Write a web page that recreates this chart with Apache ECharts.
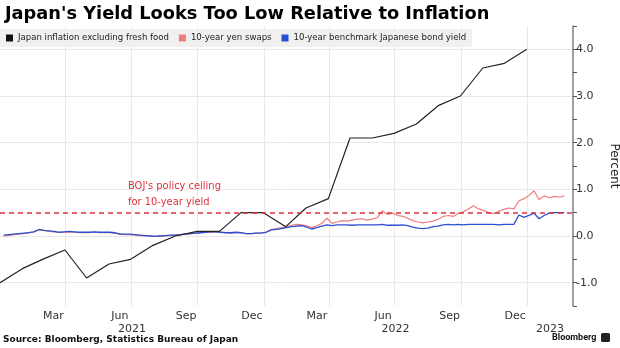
<!DOCTYPE html>
<html>
<head>
<meta charset="utf-8">
<script src="https://cdn.jsdelivr.net/npm/echarts@6/dist/echarts.min.js"></script>
<style>html,body{margin:0;padding:0;background:#fff}#chart{width:620px;height:348px}</style>
</head>
<body>
<div id="chart"></div>
<script>
// ---- Data ----
const inflationDates = ['2020-12-31','2021-01-31','2021-02-28','2021-03-31','2021-04-30','2021-05-31','2021-06-30','2021-07-31','2021-08-31','2021-09-30','2021-10-31','2021-11-30','2021-12-31','2022-01-31','2022-02-28','2022-03-31','2022-04-30','2022-05-31','2022-06-30','2022-07-31','2022-08-31','2022-09-30','2022-10-31','2022-11-30','2022-12-31'];
const inflationValues = [-1.0,-0.7,-0.5,-0.3,-0.9,-0.6,-0.5,-0.2,0.0,0.1,0.1,0.5,0.5,0.2,0.6,0.8,2.1,2.1,2.2,2.4,2.8,3.0,3.6,3.7,4.0];

// weekly readings (Tuesdays) starting 2021-01-05
const weeklyStart = '2021-01-05';
const swapValues = [
 0.00,0.01,0.03,0.04,0.05,0.07,0.09,0.13,
 0.12,0.10,0.09,0.08,0.08,0.09,0.08,0.07,
 0.07,0.07,0.08,0.07,0.07,0.07,0.06,0.04,
 0.03,0.03,0.02,0.01,0.00,0.00,-0.01,0.00,
 0.00,0.01,0.02,0.03,0.04,0.05,0.06,0.07,
 0.08,0.08,0.08,0.08,0.07,0.06,0.07,0.07,
 0.05,0.05,0.06,0.07,0.09,0.14,0.16,0.18,
 0.20,0.23,0.25,0.24,0.22,0.18,0.22,0.27,
 0.38,0.27,0.30,0.33,0.32,0.34,0.36,0.37,
 0.34,0.36,0.40,0.54,0.46,0.49,0.44,0.42,
 0.38,0.33,0.30,0.28,0.30,0.32,0.36,0.42,
 0.44,0.42,0.48,0.52,0.58,0.65,0.58,0.55,
 0.50,0.48,0.53,0.57,0.60,0.58,0.75,0.80,
 0.87,0.97,0.78,0.86,0.82,0.85,0.83,0.86
];
const bondValues = [
 0.02,0.03,0.04,0.05,0.06,0.07,0.09,0.14,
 0.12,0.11,0.10,0.08,0.09,0.10,0.09,0.08,
 0.08,0.08,0.09,0.08,0.08,0.08,0.07,0.04,
 0.04,0.04,0.03,0.02,0.01,0.00,-0.01,0.00,
 0.01,0.02,0.02,0.03,0.04,0.05,0.06,0.07,
 0.08,0.09,0.09,0.08,0.07,0.07,0.08,0.07,
 0.05,0.05,0.06,0.06,0.08,0.13,0.14,0.16,
 0.18,0.20,0.21,0.22,0.19,0.15,0.18,0.21,
 0.24,0.22,0.24,0.24,0.24,0.23,0.24,0.24,
 0.24,0.24,0.24,0.25,0.23,0.23,0.23,0.24,
 0.22,0.19,0.17,0.16,0.17,0.20,0.21,0.24,
 0.25,0.24,0.25,0.24,0.25,0.25,0.25,0.25,
 0.25,0.25,0.24,0.25,0.25,0.25,0.45,0.40,
 0.44,0.49,0.37,0.44,0.49,0.50,0.50,0.50
];
const ceilingValue = 0.5;

const monthTickDates = ['2021-03-15','2021-06-15','2021-09-15','2021-12-15','2022-03-15','2022-06-15','2022-09-15','2022-12-15'];
const monthTickLabels = ['Mar','Jun','Sep','Dec','Mar','Jun','Sep','Dec'];
const yearTickDates = ['2021-07-02','2022-07-02','2023-02-01'];
const yearTickLabels = ['2021','2022','2023'];
const quarterGridDates = ['2021-04-01','2021-07-01','2021-10-01','2022-01-01','2022-04-01','2022-07-01','2022-10-01','2023-01-01'];
const yGridValues = [-1,0,1,2,3,4];
const xMinDate = '2020-12-31';
const xMaxDate = '2023-03-05';

// ---- Helpers ----
function ts(s){ const p = s.split('-').map(Number); return Date.UTC(p[0], p[1]-1, p[2]); }
const DAY = 86400000;
const weeklyTs = swapValues.map((_, i) => ts(weeklyStart) + i * 7 * DAY);

const monthTs = monthTickDates.map(ts);
const yearTs = yearTickDates.map(ts);

const chart = echarts.init(document.getElementById('chart'), null, {renderer: 'canvas'});
const labelFont = 'DejaVu Sans';

const option = {
  animation: false,
  backgroundColor: '#ffffff',
  title: {
    text: "Japan's Yield Looks Too Low Relative to Inflation",
    left: 0, top: 0,
    textStyle: {fontFamily: 'DejaVu Sans', fontWeight: 'bold', fontSize: 17.8, color: '#000'}
  },
  legend: {
    left: 0, top: 29,
    data: ['Japan inflation excluding fresh food', '10-year yen swaps', '10-year benchmark Japanese bond yield'],
    icon: 'rect', itemWidth: 7, itemHeight: 7, itemGap: 10,
    backgroundColor: '#f0f0f0', padding: [4, 6, 4, 6],
    textStyle: {fontFamily: 'DejaVu Sans Condensed', fontSize: 9.5, color: '#222'}
  },
  grid: {left: 0, right: 47, top: 26, bottom: 42, containLabel: false, outerBoundsMode: 'none'},
  xAxis: [{
    type: 'value', min: ts(xMinDate), max: ts(xMaxDate),
    axisLine: {show: false}, axisTick: {show: false}, splitLine: {show: false},
    axisLabel: {
      customValues: monthTs, margin: 5,
      fontFamily: labelFont, fontSize: 11, color: '#333',
      formatter: function(v){ const i = monthTs.indexOf(v); return i >= 0 ? monthTickLabels[i] : ''; }
    }
  }, {
    type: 'value', min: ts(xMinDate), max: ts(xMaxDate), position: 'bottom',
    axisLine: {show: false}, axisTick: {show: false}, splitLine: {show: false},
    axisLabel: {
      customValues: yearTs, margin: 18,
      fontFamily: labelFont, fontSize: 11, color: '#333',
      formatter: function(v){ const i = yearTs.indexOf(v); return i >= 0 ? yearTickLabels[i] : ''; }
    }
  }],
  yAxis: {
    type: 'value', position: 'right', min: -1.5, max: 4.5, interval: 0.5,
    name: 'Percent', nameLocation: 'middle', nameRotate: -90, nameGap: 30,
    nameTextStyle: {fontFamily: labelFont, fontSize: 12, color: '#222'},
    axisLine: {show: true, lineStyle: {color: '#808080', width: 1.5}},
    axisTick: {show: true, length: 4, inside: false, lineStyle: {color: '#555'}},
    splitLine: {show: false},
    axisLabel: {
      margin: 3, fontFamily: labelFont, fontSize: 11, color: '#333',
      formatter: function(v){ return Math.abs(v - Math.round(v)) < 1e-9 ? v.toFixed(1) : ''; }
    }
  },
  series: [
    {
      type: 'line', name: 'grid', data: [], z: 0, silent: true,
      markLine: {
        z: 0, silent: true, symbol: 'none', label: {show: false}, animation: false,
        lineStyle: {color: '#e9e9e9', width: 1, type: 'solid'},
        data: quarterGridDates.map(d => ({xAxis: ts(d)})).concat(yGridValues.map(v => ({yAxis: v})))
      }
    },
    {
      type: 'line', name: '10-year yen swaps', z: 2,
      data: weeklyTs.map((t, i) => [t, swapValues[i]]),
      showSymbol: false, symbol: 'none',
      itemStyle: {color: '#f07c7c'}, lineStyle: {color: '#f07c7c', width: 1.2}
    },
    {
      type: 'line', name: '10-year benchmark Japanese bond yield', z: 3,
      data: weeklyTs.map((t, i) => [t, bondValues[i]]),
      showSymbol: false, symbol: 'none',
      itemStyle: {color: '#2b4fd1'}, lineStyle: {color: '#2b4fd1', width: 1.3}
    },
    {
      type: 'line', name: 'Japan inflation excluding fresh food', z: 4,
      data: inflationDates.map((d, i) => [ts(d), inflationValues[i]]),
      showSymbol: false, symbol: 'none',
      itemStyle: {color: '#111'}, lineStyle: {color: '#222', width: 1.2}
    },
    {
      type: 'line', name: 'ceiling', data: [], z: 5, silent: true,
      markLine: {
        z: 6, silent: true, symbol: 'none', label: {show: false}, animation: false,
        lineStyle: {color: '#e0303c', width: 1.5, type: [5, 4]},
        data: [{yAxis: ceilingValue}]
      }
    }
  ],
  graphic: [
    {
      type: 'text', left: 128, top: 178, z: 10,
      style: {text: "BOJ's policy ceiling\nfor 10-year yield", fill: '#e0303c', font: '11px "DejaVu Sans Condensed"', lineHeight: 16}
    },
    {
      type: 'text', left: 3, top: 335, z: 10,
      style: {text: 'Source: Bloomberg, Statistics Bureau of Japan', fill: '#111', font: 'bold 9px "DejaVu Sans"'}
    },
    {
      type: 'text', left: 552, top: 333, z: 10,
      style: {text: 'Bloomberg', fill: '#111', font: 'bold 9px "Roboto"'}
    },
    {
      type: 'rect', left: 601, top: 333, z: 10,
      shape: {width: 9, height: 9, r: 1.5}, style: {fill: '#222'}
    }
  ]
};
chart.setOption(option);
</script>
</body>
</html>
